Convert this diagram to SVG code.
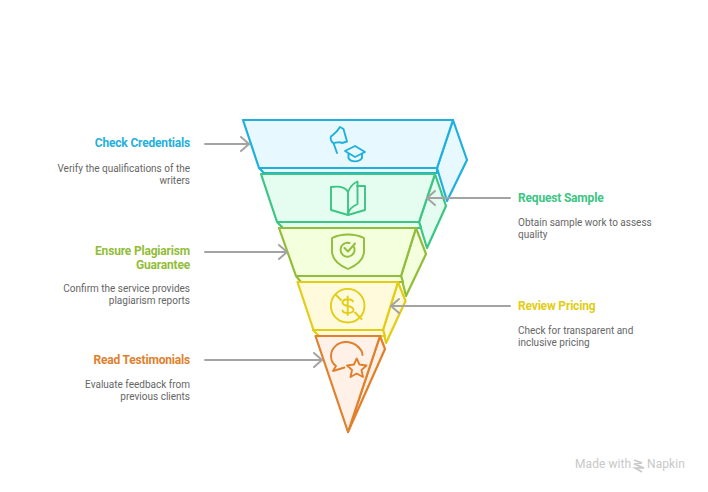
<svg xmlns="http://www.w3.org/2000/svg" width="708" height="492" viewBox="0 0 708 492">
<style>
.s{stroke-width:2.2;stroke-linejoin:round;stroke-linecap:round}
.i{fill:none;stroke-width:1.9;stroke-linejoin:round;stroke-linecap:round}
.blue{stroke:#1fb0dd;fill:#e8f8ff}.green{stroke:#3cc583;fill:#e4fdf0}.lime{stroke:#92bd39;fill:#f4ffde}.yellow{stroke:#e2cd14;fill:#fffadc}.orange{stroke:#e0802d;fill:#fff1e7}
.ib{stroke:#1fb0dd}.ig{stroke:#3cc583}.il{stroke:#92bd39}.iy{stroke:#e2cd14}.io{stroke:#e0802d}
text{font-family:Roboto,"Liberation Sans",sans-serif}
.t{font-size:12px;font-weight:700;letter-spacing:-.18px}
.d{font-size:10px;fill:#666}
.e{text-anchor:end}
.c{fill:none;stroke:#a3a3a3;stroke-width:2;stroke-linecap:round;stroke-linejoin:round}
.w{font-size:12px;fill:#c8c8c8;font-weight:400;letter-spacing:.08px}
</style>
<defs><marker id="a" markerUnits="userSpaceOnUse" markerWidth="12" markerHeight="18" refX="10" refY="9" orient="auto"><path d="M2 2L10 9L2 16" fill="none" stroke="#a3a3a3" stroke-width="2" stroke-linecap="round" stroke-linejoin="round"/></marker></defs>
<g id="node-blue">
<path class="s blue" d="M437 168L453 120L467 160L447 201Z"/>
<path class="s blue" d="M259 168L264 173H437V168Z"/>
<path class="s blue" d="M243 120H453L437 168H259Z"/>
<path class="i ib" d="M333.500 143L337 153M331 136.500C334 134 337 132 340 127L343.500 129L347 141.500L342 143C339 141 336 143 333.500 143C331 142 330 138 331 136.500Z"/>
<path class="i ib" d="M345 151L355 146L365 152L355 157ZM348.500 153.500V158C351 162.500 359 162.500 362 158V153.500"/>
</g>
<g id="node-green">
<path class="s green" d="M419 222L435 174L446 206L427 248Z"/>
<path class="s green" d="M277 222L283 228H421L419 222Z"/>
<path class="s green" d="M261 174H435L419 222H277Z"/>
<path class="i ig" d="M357 186H365V210L348 215L331 210V187C338 186 345 186 348 192M348 192C350 187 354 183 357.500 181.500V204C353 206 349 209 348 214Z"/>
</g>
<g id="node-lime">
<path class="s lime" d="M401 276L416 228L426 254L406 296Z"/>
<path class="s lime" d="M296 276L301 282H403L401 276Z"/>
<path class="s lime" d="M279 228H416L401 276H296Z"/>
<path class="i il" d="M348 234.500C354 234.500 359 235.500 364 238V251C364 260 355 266 348 269C341 266 332 260 332 251V238C337 235.500 342 234.500 348 234.500Z"/>
<path class="i il" d="M354 247A7 7 0 1 1 349.500 243M344.500 248L348 251.500L355 243.500"/>
</g>
<g id="node-yellow">
<path class="s yellow" d="M383 330L398 282L405.500 301L386 343Z"/>
<path class="s yellow" d="M313 330L319 336H385L383 330Z"/>
<path class="s yellow" d="M297.500 282H398L383 330H313.500Z"/>
<circle class="i iy" cx="347.700" cy="305.700" r="16.800"/>
<path class="i iy" d="M335.500 294.500L341 300M355 312.500L361.500 319M347.700 296.500V315M353 301.500C352 298.500 343 298 342.500 302.500C342.500 307.500 353.500 304.500 353.500 310C353 314 343.500 314 342.500 310.500"/>
</g>
<g id="node-orange">
<path class="s orange" d="M380 336L385 349L348 432Z"/>
<path class="s orange" d="M315.500 336H380L348 432Z"/>
<path class="i io" d="M362.500 355C362 348 354 342 346 342C337 342 331 349 331 356C331 361 333 364 336 366L333 371L344.500 367.500"/>
<path class="i io" d="M356.700 358.500L359.500 364.500L366.500 365.500L361.500 370L363 377L356.700 373.500L350.500 377L352 370L347 365.500L354 364.500Z"/>
</g>
<g id="connectors">
<path class="c" marker-end="url(#a)" d="M205 144H249"/>
<path class="c" marker-end="url(#a)" d="M205 252H287"/>
<path class="c" marker-end="url(#a)" d="M205 360H322"/>
<path class="c" marker-end="url(#a)" d="M510 198H427"/>
<path class="c" marker-end="url(#a)" d="M510 306H391"/>
</g>
<g id="label-credentials"><text class="t e" x="190" y="147" fill="#1fb0dd">Check Credentials</text><text class="d e" x="190" y="172">Verify the qualifications of the</text><text class="d e" x="190" y="184">writers</text></g>
<g id="label-plagiarism"><text class="t e" x="190" y="255" fill="#92bd39">Ensure Plagiarism</text><text class="t e" x="190" y="269" fill="#92bd39">Guarantee</text><text class="d e" x="190" y="292">Confirm the service provides</text><text class="d e" x="190" y="304">plagiarism reports</text></g>
<g id="label-testimonials"><text class="t e" x="190" y="364" fill="#e0802d">Read Testimonials</text><text class="d e" x="190" y="388">Evaluate feedback from</text><text class="d e" x="190" y="400">previous clients</text></g>
<g id="label-sample"><text class="t" x="518" y="202" fill="#3cc583">Request Sample</text><text class="d" x="518" y="226">Obtain sample work to assess</text><text class="d" x="518" y="238">quality</text></g>
<g id="label-pricing"><text class="t" x="518" y="310" fill="#e2cd14">Review Pricing</text><text class="d" x="518" y="334">Check for transparent and</text><text class="d" x="518" y="346">inclusive pricing</text></g>
<g id="watermark"><text class="w" x="575" y="468">Made with</text><path d="M634 460L642 463L634 464L644 468L635 468L642 472M634 464L641 467" fill="none" stroke="#c8c8c8" stroke-width="1.500"/><text class="w" x="647" y="468">Napkin</text></g>
</svg>
